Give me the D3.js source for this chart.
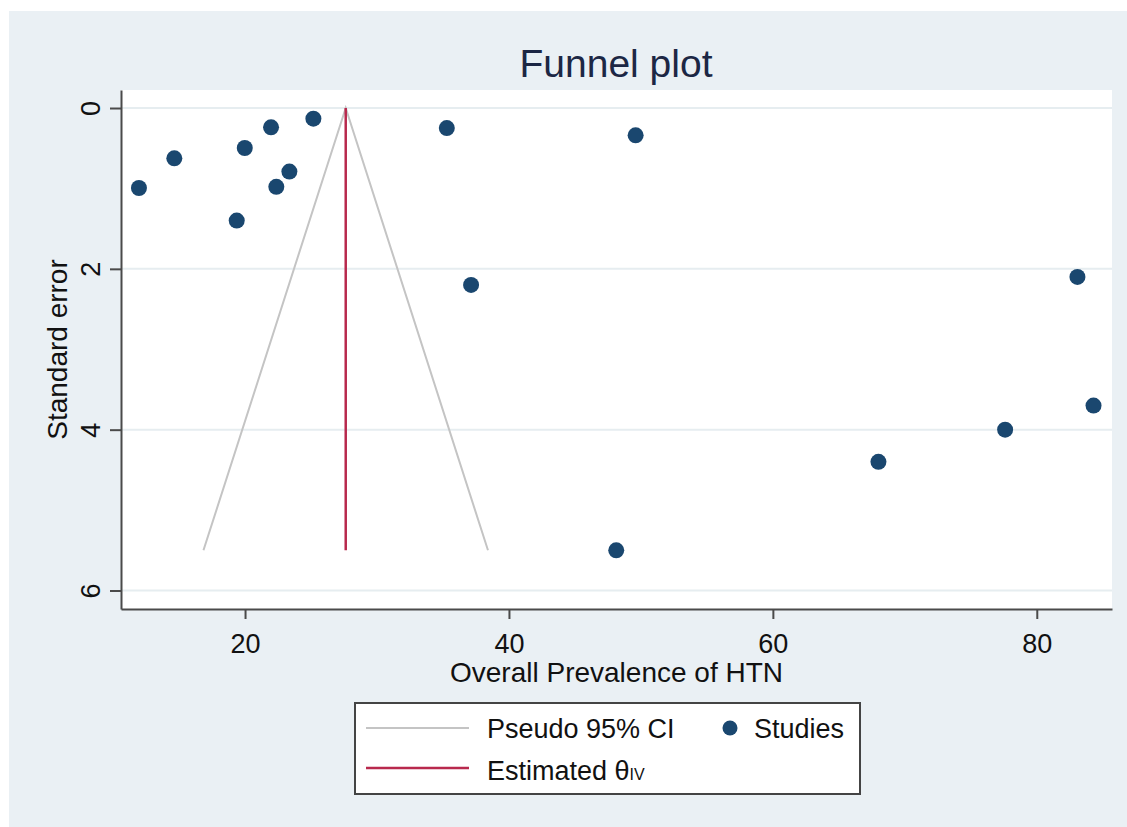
<!DOCTYPE html>
<html>
<head>
<meta charset="utf-8">
<script src="https://cdn.jsdelivr.net/npm/d3@7"></script>
<style>
	body { margin: 0; background: #fff; }
	svg { display: block; font-family: 'Liberation Sans', Arial, sans-serif; }
</style>
</head>
<body>
<div class="chart"></div>
<script>
// study estimates
const prevalence = [11.96, 14.64, 19.98, 21.97, 25.18, 23.36, 22.37, 19.37, 35.29, 49.6, 37.13, 83.08, 84.3, 77.6, 68.0, 48.13]
const stdError = [0.995, 0.626, 0.497, 0.24, 0.133, 0.79, 0.98, 1.40, 0.25, 0.34, 2.20, 2.10, 3.70, 4.0, 4.40, 5.50]

// pseudo 95% CI funnel and pooled estimate
const theta = 27.63
const funnelSE = [5.5, 0, 5.5]
const funnelX = [16.85, 27.63, 38.41]
const thetaSE = [0, 5.5]

const xTicks = [20, 40, 60, 80]
const yTicks = [0, 2, 4, 6]

const width = 1127
const height = 827
const margin = { top: 90, right: 15, bottom: 218, left: 121 }

const NAVY = '#1a476f'
const RED = '#b8294d'
const GREY = '#c4c4c4'
const AXIS = '#4a4a4a'
const BG = '#eaf0f4'

const svg = d3.select('.chart').append('svg')
	.attr('width', width)
	.attr('height', height)

svg.append('rect')
	.attr('x', 9).attr('y', 11)
	.attr('width', width - 9).attr('height', height - 11)
	.attr('fill', BG)

const x = d3.scaleLinear()
	.domain([10.6, 85.7])
	.range([margin.left, width - margin.right])

const y = d3.scaleLinear()
	.domain([-0.224, 6.23])
	.range([margin.top, height - margin.bottom])

const plotW = x.range()[1] - x.range()[0]
const plotH = y.range()[1] - y.range()[0]

svg.append('rect')
	.attr('x', margin.left).attr('y', margin.top)
	.attr('width', plotW).attr('height', plotH)
	.attr('fill', '#fff')

// gridlines
svg.append('g')
	.selectAll('line')
	.data(yTicks)
	.join('line')
		.attr('x1', margin.left)
		.attr('x2', x.range()[1])
		.attr('y1', d => y(d))
		.attr('y2', d => y(d))
		.attr('stroke', '#e6edf0')
		.attr('stroke-width', 2)

// funnel
const line = d3.line()
	.x(d => x(d[0]))
	.y(d => y(d[1]))

svg.append('path')
	.attr('d', line(funnelX.map((v, i) => [v, funnelSE[i]])))
	.attr('fill', 'none')
	.attr('stroke', GREY)
	.attr('stroke-width', 2)

svg.append('path')
	.attr('d', line(thetaSE.map(s => [theta, s])))
	.attr('fill', 'none')
	.attr('stroke', RED)
	.attr('stroke-width', 2.5)

// studies
svg.append('g')
	.selectAll('circle')
	.data(prevalence)
	.join('circle')
		.attr('cx', d => x(d))
		.attr('cy', (d, i) => y(stdError[i]))
		.attr('r', 8)
		.attr('fill', NAVY)

// axes
const xAxis = svg.append('g')
	.attr('transform', `translate(0, ${y.range()[1]})`)
	.call(d3.axisBottom(x).tickValues(xTicks).tickFormat(d3.format('d')).tickSize(10).tickSizeOuter(0))

xAxis.select('.domain').attr('stroke', AXIS).attr('stroke-width', 2)
xAxis.selectAll('.tick line').attr('stroke', AXIS).attr('stroke-width', 2)
xAxis.selectAll('.tick text')
	.attr('font-size', 27)
	.attr('fill', '#111')
	.attr('dy', null)
	.attr('y', 44)

const yAxis = svg.append('g')
	.attr('transform', `translate(${margin.left}, 0)`)
	.call(d3.axisLeft(y).tickValues(yTicks).tickFormat(d3.format('d')).tickSize(11).tickSizeOuter(0))

yAxis.select('.domain').attr('stroke', AXIS).attr('stroke-width', 2)
yAxis.selectAll('.tick line').attr('stroke', AXIS).attr('stroke-width', 2)
yAxis.selectAll('.tick text')
	.attr('font-size', 27)
	.attr('fill', '#111')
	.attr('x', null)
	.attr('dy', null)
	.attr('text-anchor', 'middle')
	.attr('transform', 'translate(-21, 0) rotate(-90)')

// titles
svg.append('text')
	.attr('x', 616)
	.attr('y', 77)
	.attr('text-anchor', 'middle')
	.attr('font-size', 39)
	.attr('fill', '#1c2744')
	.text('Funnel plot')

svg.append('text')
	.attr('x', (x.range()[0] + x.range()[1]) / 2)
	.attr('y', 682)
	.attr('text-anchor', 'middle')
	.attr('font-size', 28)
	.attr('fill', '#111')
	.text('Overall Prevalence of HTN')

svg.append('text')
	.attr('transform', `translate(67, ${(y.range()[0] + y.range()[1]) / 2}) rotate(-90)`)
	.attr('text-anchor', 'middle')
	.attr('font-size', 28)
	.attr('fill', '#111')
	.text('Standard error')

// legend
const legend = svg.append('g').attr('transform', 'translate(355, 703)')

legend.append('rect')
	.attr('width', 505).attr('height', 91)
	.attr('fill', '#fff')
	.attr('stroke', '#444')
	.attr('stroke-width', 2)

legend.append('line')
	.attr('x1', 11).attr('x2', 114).attr('y1', 25).attr('y2', 25)
	.attr('stroke', GREY).attr('stroke-width', 2)

legend.append('text')
	.attr('x', 132).attr('y', 35)
	.attr('font-size', 27).attr('fill', '#111')
	.text('Pseudo 95% CI')

legend.append('circle')
	.attr('cx', 375).attr('cy', 25).attr('r', 7.5)
	.attr('fill', NAVY)

legend.append('text')
	.attr('x', 399).attr('y', 35)
	.attr('font-size', 27).attr('fill', '#111')
	.text('Studies')

legend.append('line')
	.attr('x1', 11).attr('x2', 114).attr('y1', 65).attr('y2', 65)
	.attr('stroke', RED).attr('stroke-width', 2.5)

const est = legend.append('text')
	.attr('x', 132).attr('y', 77)
	.attr('font-size', 27).attr('fill', '#111')

est.append('tspan').text('Estimated θ')
est.append('tspan').attr('font-size', 16).text('IV')
</script>
</body>
</html>
